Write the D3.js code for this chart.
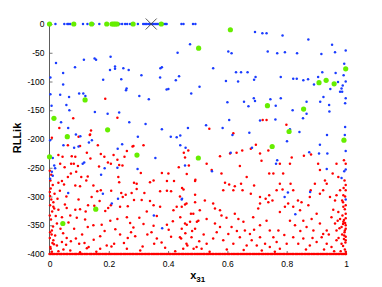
<!DOCTYPE html>
<html>
<head>
<meta charset="utf-8">
<script src="https://cdn.jsdelivr.net/npm/d3@7"></script>
<style>
  body { margin: 0; background: #fff; }
  svg { display: block; font-family: "Liberation Sans", Arial, sans-serif; }
</style>
</head>
<body>
<svg id="chart" width="382" height="287"></svg>
<script>
// x ticks / y ticks
var xTicks = [0, 0.2, 0.4, 0.6, 0.8, 1];
var yTicks = [0, -50, -100, -150, -200, -250, -300, -350, -400];

// points sitting on RLLik = 0
var blueTopX = [0.02, 0.05, 0.06, 0.065, 0.07, 0.113, 0.128, 0.148, 0.168, 0.228, 0.236, 0.245, 0.255, 0.262, 0.272, 0.298,
  0.316, 0.322, 0.327, 0.333, 0.338, 0.343, 0.348, 0.352, 0.357, 0.362, 0.366, 0.371, 0.376, 0.381, 0.386, 0.391, 0.395,
  0.445, 0.452, 0.484, 0.492];

var bluePts = [
  [0.693,-14],[0.718,-16],[0.732,-16],[0.786,-20],[0.873,-27],[0.953,-36],[0.999,-46],[0.474,-35],[0.432,-50],
  [0.603,-48],[0.614,-51],[0.736,-48],[0.768,-51],[0.794,-49],[0.835,-51],[0.917,-52],[0.963,-49],[0.994,-69],
  [0.552,-77],[0.629,-84],[0.646,-84],[0.668,-84],[0.695,-92],[0.690,-97],[0.595,-99],[0.636,-100],[0.780,-92],
  [0.822,-95],[0.834,-95],[0.856,-98],[0.872,-96],[0.906,-92],[0.920,-84],[0.965,-85],[0.992,-89],[0.999,-100],
  [0.989,-107],[0.985,-112],[0.973,-101],[0.947,-113],[0.980,-118],[0.987,-118],[0.892,-105],[0.506,-109],
  [0.478,-121],[0.924,-127],[0.999,-129],[0.913,-135],[0.867,-135],[0.780,-129],[0.745,-131],[0.689,-129],
  [0.693,-134],[0.656,-135],[0.600,-136],[0.671,-143],[0.763,-142],[0.820,-150],[0.867,-156],[0.943,-141],
  [0.997,-138],[0.944,-152],[0.855,-164],[0.762,-166],[0.710,-168],[0.606,-167],[0.528,-176],[0.467,-181],
  [0.584,-181],[0.997,-179],[0.843,-188],[0.811,-183],[0.617,-193],[0.674,-189],[0.936,-193],[0.996,-193],
  [0.022,-68],[0.116,-62],[0.152,-60],[0.157,-62],[0.206,-57],[0.086,-75],[0.046,-85],[0.204,-80],[0.221,-74],
  [0.221,-78],[0.249,-77],[0.267,-80],[0.310,-89],[0.379,-75],[0.374,-77],[0.373,-93],[0.426,-98],[0.437,-91],
  [0.181,-97],[0.242,-96],[0.046,-105],[0.003,-93],[0.003,-122],[0.036,-123],[0.100,-121],[0.114,-121],
  [0.121,-125],[0.066,-127],[0.303,-125],[0.260,-112],[0.258,-115],[0.335,-131],[0.395,-114],[0.401,-113],
  [0.057,-141],[0.067,-150],[0.153,-153],[0.196,-156],[0.235,-154],[0.007,-142],[0.039,-171],[0.063,-181],
  [0.089,-192],[0.104,-195],[0.269,-171],[0.324,-174],[0.379,-183],[0.298,-196],[0.409,-196],[0.429,-197],
  [0.441,-194],[0.047,-211],[0.083,-215],[0.098,-213],[0.133,-206],[0.143,-202],[0.230,-217],[0.245,-209],
  [0.002,-202],[0.011,-233],[0.016,-246],[0.008,-257],[0.002,-269],[0.011,-264],[0.019,-251],[0.117,-241],
  [0.112,-243],[0.063,-294],[0.180,-295],[0.174,-262],[0.186,-251],[0.229,-250],[0.297,-252],[0.357,-233],
  [0.231,-304],[0.210,-312],[0.352,-333],[0.380,-355],[0.447,-304],[0.441,-211],[0.459,-215],
  [0.801,-204],[0.912,-210],[0.683,-215],[0.611,-224],[0.876,-223],[0.909,-225],[0.937,-225],[0.999,-221],
  [0.994,-256],[0.999,-253],[0.935,-252],[0.768,-237],[0.764,-243],[0.548,-256],[0.457,-246],[0.985,-268],
  [0.804,-293],[0.793,-301],[0.879,-292],[0.999,-305],[0.829,-331],[0.446,-305]
];

var greenPts = [
  [0,0],[0.082,0],[0.142,0],[0.193,0],[0.211,0],[0.217,0],[0.222,0],[0.228,0],[0.282,0],[0.377,0],
  [0.61,-10],[0.503,-42],[0.999,-78],[0.909,-102],[0.933,-98],[0.960,-104],[0.735,-142],[0.857,-148],
  [0.808,-187],[0.993,-202],[0.120,-132],[0.015,-164],[0.196,-184],[0.060,-196],[0.0,-231],[0.295,-228],
  [0.502,-233],[0.156,-322],[0.045,-347],[0.751,-213]
];

var redPts = [
  [0.188,-130],[0.080,-164],[0.033,-181],[0.140,-185],[0.136,-193],[0.098,-196],[0.229,-163],[0.008,-198],
  [0.539,-182],[0.620,-190],[0.719,-167],[0.732,-167],[0.799,-175],
  [0.137,-192],[0.103,-212],[0.163,-211],[0.283,-212],[0.317,-211],[0.062,-211],[0.075,-230],[0.030,-228],
  [0.044,-231],[0.087,-231],[0.126,-224],[0.138,-234],[0.185,-231],[0.173,-226],[0.253,-231],[0.261,-221],
  [0.280,-213],[0.216,-228],[0.229,-236],[0.235,-245],[0.207,-243],[0.246,-246],[0.197,-241],[0.073,-243],
  [0.082,-243],[0.096,-247],[0.167,-248],[0.051,-249],[0.036,-243],
  [0.030,-276],[0.042,-273],[0.049,-279],[0.017,-295],[0.013,-310],[0.016,-321],[0.004,-286],[0.002,-299],
  [0.072,-260],[0.090,-257],[0.107,-266],[0.062,-266],[0.124,-272],[0.129,-265],[0.087,-281],[0.103,-282],
  [0.148,-281],[0.161,-291],[0.173,-289],[0.208,-290],[0.232,-266],[0.235,-275],[0.242,-294],[0.247,-301],
  [0.257,-297],[0.277,-294],[0.285,-276],[0.294,-278],[0.294,-287],[0.320,-294],[0.339,-275],[0.351,-272],
  [0.373,-291],[0.396,-290],[0.410,-291],[0.447,-285],[0.452,-288],[0.492,-271],[0.491,-297],[0.420,-273],
  [0.396,-273],[0.436,-249],[0.470,-246],[0.463,-261],[0.308,-259],[0.379,-259],[0.401,-260],
  [0.027,-304],[0.013,-318],[0.030,-323],[0.052,-314],[0.058,-320],[0.087,-323],[0.103,-322],[0.130,-315],
  [0.151,-316],[0.169,-308],[0.198,-320],[0.207,-315],[0.238,-318],[0.264,-317],[0.285,-306],[0.311,-306],
  [0.339,-308],[0.351,-315],[0.373,-318],[0.429,-318],[0.457,-314],[0.418,-324],[0.042,-336],[0.070,-333],
  [0.092,-337],[0.120,-340],[0.129,-353],[0.148,-350],[0.176,-349],[0.205,-342],[0.229,-339],[0.261,-336],
  [0.283,-354],[0.303,-337],[0.317,-348],[0.351,-351],[0.396,-349],[0.416,-343],[0.441,-336],[0.463,-349],
  [0.497,-344],[0.025,-347],[0.008,-359],[0.019,-368],[0.046,-364],
  [0.013,-376],[0.025,-385],[0.042,-379],[0.058,-372],[0.072,-378],[0.100,-382],[0.126,-390],[0.149,-375],
  [0.171,-369],[0.193,-385],[0.218,-382],[0.238,-366],[0.264,-372],[0.289,-369],[0.314,-387],[0.344,-362],
  [0.362,-373],[0.390,-389],[0.410,-370],[0.444,-373],[0.465,-385],[0.486,-391],[0.505,-378],[0.004,-391],
  [0.030,-395],[0.070,-394],[0.103,-397],[0.132,-388],[0.171,-391],[0.209,-387],[0.261,-391],[0.306,-394],
  [0.353,-382],[0.424,-395],
  [0.001,-255],[0.006,-262],[0.003,-272],[0.011,-280],[0.001,-292],[0.006,-305],[0.002,-315],[0.009,-326],
  [0.001,-333],[0.005,-340],[0.012,-352],[0.002,-362],[0.007,-366],[0.001,-372],[0.010,-381],[0.003,-388],
  [0.008,-396],[0.035,-290],[0.057,-300],[0.021,-334],[0.064,-345],[0.083,-356],[0.037,-356],[0.110,-366],
  [0.056,-384],[0.089,-373],[0.118,-381],[0.015,-383],[0.047,-392],[0.158,-396],[0.186,-360],[0.222,-357],
  [0.251,-381],[0.275,-362],[0.330,-366],[0.378,-380],[0.402,-358],[0.458,-364],[0.481,-360],[0.098,-305],
  [0.142,-301],[0.188,-325],[0.122,-326],[0.328,-326],[0.272,-346],[0.362,-334],[0.477,-330],[0.440,-300],
  [0.468,-220],[0.453,-224],[0.457,-232],[0.491,-273],[0.547,-254],[0.530,-243],[0.580,-260],[0.575,-230],
  [0.609,-225],[0.631,-224],[0.650,-220],[0.679,-217],[0.696,-210],[0.710,-225],[0.738,-220],[0.715,-238],
  [0.741,-260],[0.755,-260],[0.777,-243],[0.788,-260],[0.811,-243],[0.817,-232],[0.858,-229],[0.882,-227],
  [0.906,-243],[0.912,-254],[0.955,-260],[0.968,-243],[0.974,-266],[0.993,-237],[0.999,-243],[0.929,-272],
  [0.642,-247],[0.665,-266],[0.646,-278],[0.625,-282],[0.606,-279],[0.592,-276],[0.586,-289],[0.620,-289],
  [0.651,-289],[0.679,-295],[0.690,-281],[0.710,-301],[0.729,-304],[0.741,-298],[0.710,-312],[0.704,-321],
  [0.738,-310],[0.766,-289],[0.752,-307],[0.777,-278],[0.786,-288],[0.813,-278],[0.822,-289],[0.805,-312],
  [0.838,-307],[0.822,-318],[0.850,-310],[0.845,-324],[0.873,-315],[0.878,-301],[0.881,-289],[0.895,-278],
  [0.912,-295],[0.923,-289],[0.935,-278],[0.946,-301],[0.963,-307],[0.968,-298],[0.980,-289],[0.987,-307],
  [0.991,-298],[0.999,-289],[0.957,-323],[0.974,-327],[0.991,-318],[0.999,-330],
  [0.446,-318],[0.462,-312],[0.491,-310],[0.485,-330],[0.507,-324],[0.524,-307],[0.552,-312],[0.558,-321],
  [0.575,-324],[0.580,-333],[0.597,-337],[0.575,-353],[0.558,-347],[0.530,-339],[0.502,-342],[0.474,-344],
  [0.457,-347],[0.491,-356],[0.446,-356],[0.625,-330],[0.637,-339],[0.614,-353],[0.654,-344],[0.659,-359],
  [0.676,-365],[0.687,-336],[0.710,-350],[0.732,-342],[0.743,-359],[0.710,-371],[0.727,-382],[0.755,-371],
  [0.772,-359],[0.777,-327],[0.794,-318],[0.811,-342],[0.828,-350],[0.856,-342],[0.867,-353],[0.884,-339],
  [0.890,-359],[0.901,-330],[0.912,-347],[0.923,-365],[0.935,-359],[0.951,-336],[0.963,-347],[0.968,-359],
  [0.980,-339],[0.985,-353],[0.991,-344],[0.996,-359],[0.999,-350],[0.994,-368],[0.999,-376],[0.985,-382],
  [0.968,-376],[0.951,-388],[0.935,-382],[0.918,-371],[0.901,-379],[0.878,-385],[0.856,-373],[0.839,-382],
  [0.822,-371],[0.800,-382],[0.777,-391],[0.766,-379],[0.743,-388],[0.699,-385],[0.682,-376],[0.665,-385],
  [0.642,-371],[0.620,-382],[0.603,-365],[0.586,-376],[0.564,-362],[0.552,-373],[0.530,-382],[0.513,-391],
  [0.496,-388],[0.479,-371],[0.462,-382],[0.451,-391],[0.440,-371],
  [0.995,-272],[0.999,-280],[0.992,-285],[0.997,-300],[0.990,-310],[0.999,-315],[0.996,-322],[0.988,-333],
  [0.999,-338],[0.993,-341],[0.997,-346],[0.990,-348],[0.999,-356],[0.995,-362],[0.987,-366],[0.999,-370],
  [0.993,-374],[0.998,-380],[0.990,-386],[0.996,-392],[0.999,-396],[0.982,-395],[0.975,-372],[0.978,-355],
  [0.972,-342],[0.960,-395],[0.942,-366],[0.926,-392],[0.887,-372],[0.865,-392],[0.846,-360],[0.792,-367],
  [0.760,-396],[0.716,-394],[0.690,-358],[0.655,-393],[0.632,-360],[0.598,-392],[0.540,-396],[0.520,-366]
];

// the clamped row at the bottom (RLLik = -400)
var redFloorX = [0.000,0.004,0.009,0.013,0.018,0.024,0.027,0.033,0.038,0.041,0.047,0.052,0.058,0.061,0.067,
  0.072,0.077,0.083,0.088,0.091,0.097,0.103,0.108,0.112,0.118,0.123,0.127,0.134,0.139,0.142,0.148,0.153,0.159,
  0.164,0.168,0.173,0.179,0.184,0.189,0.193,0.199,0.204,0.208,0.214,0.219,0.224,0.228,0.234,0.239,0.243,0.249,
  0.254,0.258,0.264,0.269,0.274,0.279,0.283,0.289,0.294,0.298,0.304,0.309,0.313,0.319,0.324,0.329,0.334,0.338,
  0.344,0.349,0.353,0.359,0.363,0.368,0.374,0.379,0.383,0.389,0.394,0.399,0.404,0.408,0.414,0.419,0.423,0.429,
  0.434,0.438,0.444,0.449,0.453,0.459,0.464,0.468,0.474,0.479,0.483,0.489,0.494,0.499,0.504,0.508,0.514,0.519,
  0.523,0.529,0.534,0.538,0.544,0.549,0.553,0.559,0.564,0.569,0.574,0.578,0.584,0.589,0.593,0.599,0.604,0.608,
  0.614,0.619,0.623,0.629,0.634,0.638,0.644,0.649,0.653,0.659,0.664,0.669,0.674,0.678,0.684,0.689,0.693,0.699,
  0.704,0.708,0.714,0.719,0.723,0.729,0.734,0.738,0.744,0.749,0.753,0.759,0.764,0.769,0.774,0.778,0.784,0.789,
  0.793,0.799,0.804,0.808,0.814,0.819,0.823,0.829,0.834,0.838,0.844,0.849,0.853,0.859,0.864,0.869,0.874,0.878,
  0.884,0.889,0.893,0.899,0.904,0.908,0.914,0.919,0.923,0.929,0.934,0.938,0.944,0.949,0.953,0.959,0.964,0.969,
  0.974,0.978,0.984,0.989,0.993,0.998,1.000];

var bestPt = [0.343, 0];

var svg = d3.select("#chart");
var margin = {left: 49.5, right: 36, top: 24, bottom: 33};
var W = 382, H = 287;

var x = d3.scaleLinear().domain([0, 1]).range([margin.left, W - margin.right]);
var y = d3.scaleLinear().domain([-400, 0]).range([H - margin.bottom, margin.top]);

// axes (MATLAB style, ticks pointing in)
var gx = svg.append("g")
  .attr("transform", "translate(0," + y(-400) + ")")
  .call(d3.axisBottom(x).tickValues(xTicks).tickSize(-3).tickPadding(7)
    .tickFormat(function(d) { return d3.format("~g")(d); }));
var gy = svg.append("g")
  .attr("transform", "translate(" + x(0) + ",0)")
  .call(d3.axisLeft(y).tickValues(yTicks).tickSize(-3).tickPadding(5)
    .tickFormat(function(d) { return String(d); }));

[gx, gy].forEach(function(g) {
  g.select(".domain").attr("stroke", "#333").attr("stroke-width", 0.8);
  g.selectAll(".tick line").attr("stroke", "#555").attr("stroke-width", 0.8);
  g.selectAll(".tick text").attr("font-size", 8.5).attr("fill", "#000")
    .attr("font-family", "Liberation Sans, Arial, sans-serif");
});
gx.select(".domain").attr("d", "M" + x(0) + ",0H" + x(1));
gy.select(".domain").attr("d", "M0," + y(-400) + "V" + y(0));

var pts = svg.append("g");

pts.selectAll("circle.red").data(redPts).enter().append("circle")
  .attr("class", "red")
  .attr("cx", function(d) { return x(d[0]); })
  .attr("cy", function(d) { return y(d[1]); })
  .attr("r", 1.25).attr("fill", "#ff0000");

pts.selectAll("circle.floor").data(redFloorX).enter().append("circle")
  .attr("class", "floor")
  .attr("cx", function(d) { return x(d); })
  .attr("cy", y(-400))
  .attr("r", 1.25).attr("fill", "#ff0000");

pts.selectAll("circle.blue").data(bluePts).enter().append("circle")
  .attr("class", "blue")
  .attr("cx", function(d) { return x(d[0]); })
  .attr("cy", function(d) { return y(d[1]); })
  .attr("r", 1.25).attr("fill", "#1a3cff");

pts.selectAll("circle.bluetop").data(blueTopX).enter().append("circle")
  .attr("class", "bluetop")
  .attr("cx", function(d) { return x(d); })
  .attr("cy", y(0))
  .attr("r", 1.25).attr("fill", "#1a3cff");

pts.selectAll("circle.green").data(greenPts).enter().append("circle")
  .attr("class", "green")
  .attr("cx", function(d) { return x(d[0]); })
  .attr("cy", function(d) { return y(d[1]); })
  .attr("r", 2.6).attr("fill", "#66ee00");

// best point cross
var bx = x(bestPt[0]), by = y(bestPt[1]), s = 5.5;
svg.append("path")
  .attr("d", "M" + (bx - s) + "," + (by - s) + "L" + (bx + s) + "," + (by + s) +
             "M" + (bx - s) + "," + (by + s) + "L" + (bx + s) + "," + (by - s))
  .attr("stroke", "#444").attr("stroke-width", 0.9).attr("fill", "none");

// axis labels
svg.append("text")
  .attr("transform", "translate(21," + 138 + ") rotate(-90)")
  .attr("text-anchor", "middle")
  .attr("font-size", 11).attr("font-weight", "bold")
  .text("RLLik");

var xl = svg.append("text")
  .attr("x", (x(0) + x(1)) / 2)
  .attr("y", 279)
  .attr("text-anchor", "middle")
  .attr("font-size", 11).attr("font-weight", "bold");
xl.append("tspan").text("x");
xl.append("tspan").attr("font-size", 8).attr("dy", 3).text("31");
</script>
</body>
</html>
